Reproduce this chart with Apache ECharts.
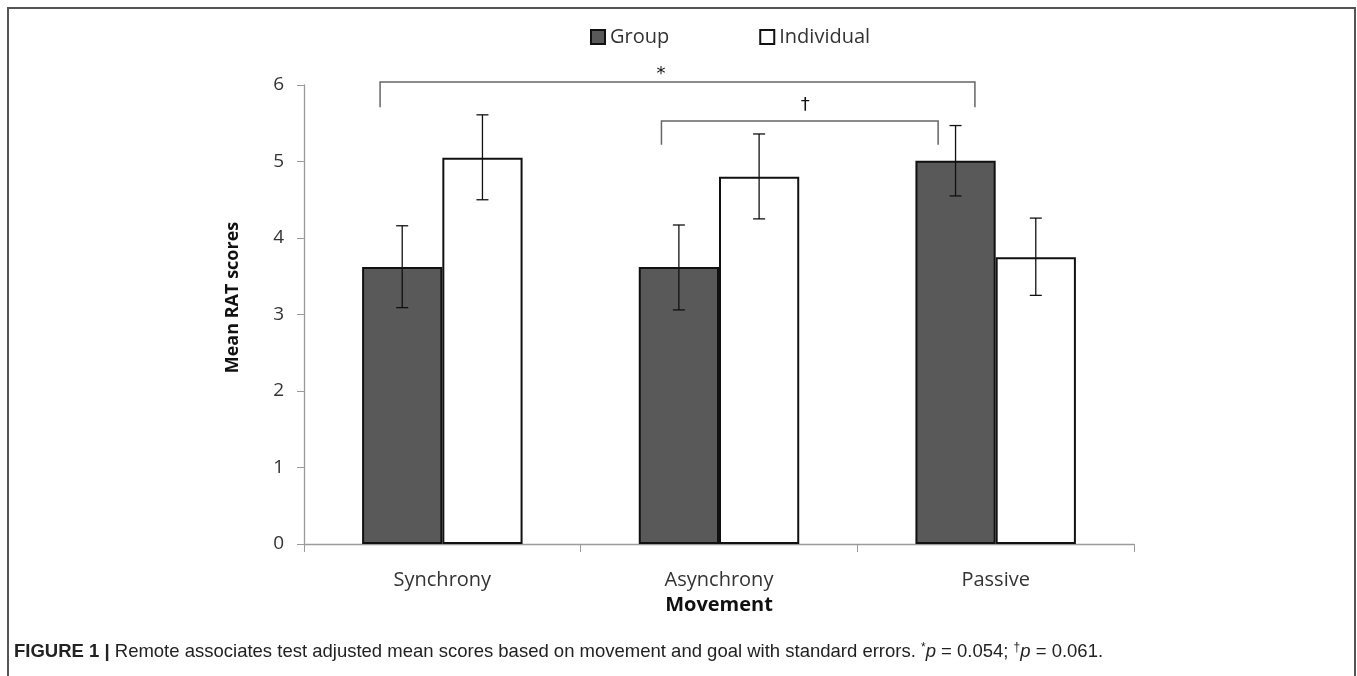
<!DOCTYPE html>
<html><head><meta charset="utf-8">
<script src="https://cdn.jsdelivr.net/npm/echarts@6/dist/echarts.min.js"></script>
<style>html,body{margin:0;padding:0;background:#fff}#c{width:1357px;height:676px}</style>
</head><body><div id="c"></div>
<script>
const categories = ['Synchrony', 'Asynchrony', 'Passive'];
const seriesNames = ['Group', 'Individual'];
const groupMeans = [3.62, 3.62, 5.01];
const groupErrLow = [3.09, 3.06, 4.55];
const groupErrHigh = [4.16, 4.17, 5.47];
const individualMeans = [5.05, 4.80, 3.75];
const individualErrLow = [4.50, 4.25, 3.25];
const individualErrHigh = [5.61, 5.36, 4.26];
const yTicks = [0, 1, 2, 3, 4, 5, 6];
// significance brackets: from / to category, level of the bar, end of the drops, label and its level
const bracketFrom = ['Synchrony', 'Asynchrony'];
const bracketTo = ['Passive', 'Passive'];
const bracketTop = [6.04, 5.53];
const bracketDrop = [5.71, 5.22];
const bracketLabel = ['*', '\u2020'];
const bracketLabelY = [6.14, 5.73];
const captionText = 'Remote associates test adjusted mean scores based on movement and goal with standard errors.';

const FONT = '"Open Sans", sans-serif';
const BAND_FILL = 0.58;           // share of category used by the two bars
const halfBar = BAND_FILL / 4;    // center offset of each bar (fraction of band)
// bracket end shifts, fraction of band, relative to the group bar center
const bracketShiftFrom = [-0.08, -0.063];
const bracketShiftTo = [0.07, -0.063];
const bracketLabelShift = [-0.06, 0.02];

const chart = echarts.init(document.getElementById('c'), null, {renderer: 'canvas'});

function errData(low, high) {
  return categories.map((c, i) => [i, low[i], high[i]]);
}
function errorRender(sign) {
  return function (params, api) {
    const idx = api.value(0);
    const pLow = api.coord([idx, api.value(1)]);
    const pHigh = api.coord([idx, api.value(2)]);
    const band = api.size([1, 0])[0];
    const x = pLow[0] + sign * band * halfBar;
    const cap = 6;
    const st = {stroke: '#111', lineWidth: 1.3};
    return {type: 'group', children: [
      {type: 'line', shape: {x1: x, y1: pLow[1], x2: x, y2: pHigh[1]}, style: st},
      {type: 'line', shape: {x1: x - cap, y1: pLow[1], x2: x + cap, y2: pLow[1]}, style: st},
      {type: 'line', shape: {x1: x - cap, y1: pHigh[1], x2: x + cap, y2: pHigh[1]}, style: st}
    ]};
  };
}

const bracketData = bracketFrom.map((f, i) => [categories.indexOf(f), bracketTop[i], categories.indexOf(bracketTo[i]), bracketDrop[i], bracketLabelY[i]]);

const option = {
  backgroundColor: '#fff',
  animation: false,
  legend: {
    data: seriesNames,
    left: 590, top: 27, padding: 0,
    icon: 'rect', itemWidth: 14, itemHeight: 14, itemGap: 90,
    textStyle: {fontFamily: FONT, fontSize: 20, color: '#333'}
  },
  grid: {left: 304, right: 223, top: 85, bottom: 132, containLabel: false},
  xAxis: {
    type: 'category', data: categories,
    name: 'Movement', nameLocation: 'middle', nameGap: 47,
    nameTextStyle: {fontFamily: FONT, fontSize: 20, fontWeight: 'bold', color: '#111'},
    axisLine: {lineStyle: {color: '#9a9a9a', width: 1.3}},
    axisTick: {show: true, length: 8, lineStyle: {color: '#9a9a9a'}},
    axisLabel: {fontFamily: FONT, fontSize: 20, color: '#333', margin: 26}
  },
  yAxis: {
    type: 'value', min: yTicks[0], max: yTicks[yTicks.length - 1], interval: 1,
    name: 'Mean RAT scores', nameLocation: 'middle', nameGap: 62,
    nameTextStyle: {fontFamily: FONT, fontSize: 18, fontWeight: 'bold', color: '#111', padding: [0, 0, 0, 34]},
    axisLine: {show: true, lineStyle: {color: '#9a9a9a', width: 1.3}},
    axisTick: {show: true, length: 7, lineStyle: {color: '#9a9a9a'}},
    axisLabel: {fontFamily: FONT, fontSize: 19, color: '#333', margin: 20},
    splitLine: {show: false}
  },
  series: [
    {name: seriesNames[0], type: 'bar', data: groupMeans, barGap: '0%', barCategoryGap: '42%',
     itemStyle: {color: '#595959', borderColor: '#111', borderWidth: 2}},
    {name: seriesNames[1], type: 'bar', data: individualMeans, barGap: '0%', barCategoryGap: '42%',
     itemStyle: {color: '#ffffff', borderColor: '#111', borderWidth: 2}},
    {type: 'custom', name: 'errG', data: errData(groupErrLow, groupErrHigh), renderItem: errorRender(-1),
     z: 5, silent: true, clip: false, encode: {x: 0, y: [1, 2]}},
    {type: 'custom', name: 'errI', data: errData(individualErrLow, individualErrHigh), renderItem: errorRender(1),
     z: 5, silent: true, clip: false, encode: {x: 0, y: [1, 2]}},
    {type: 'custom', name: 'brackets', data: bracketData, z: 6, silent: true, clip: false,
     encode: {x: [0, 2], y: [1, 3, 4]},
     renderItem: function (params, api) {
       const i = params.dataIndex;
       const band = api.size([1, 0])[0];
       const a = api.coord([api.value(0), api.value(1)]);
       const b = api.coord([api.value(2), api.value(1)]);
       const d = api.coord([api.value(0), api.value(3)]);
       const lab = api.coord([api.value(0), api.value(4)]);
       const x1 = a[0] + band * (-halfBar + bracketShiftFrom[i]);
       const x2 = b[0] + band * (-halfBar + bracketShiftTo[i]);
       const st = {stroke: '#666', lineWidth: 1.5, fill: null};
       return {type: 'group', children: [
         {type: 'polyline', shape: {points: [[x1, d[1]], [x1, a[1]], [x2, a[1]], [x2, d[1]]]}, style: st},
         {type: 'text', style: {text: bracketLabel[i], x: (x1 + x2) / 2 + band * bracketLabelShift[i], y: lab[1],
           align: 'center', verticalAlign: 'middle', font: '18px "DejaVu Sans", sans-serif', fill: '#111'}}
       ]};
     }}
  ],
  graphic: [
    {type: 'rect', shape: {x: 8, y: 8, width: 1347, height: 700}, style: {fill: null, stroke: '#555', lineWidth: 2}, silent: true},
    {type: 'text', left: 14, top: 642, silent: true,
     style: {
       text: '{b|FIGURE 1 |} ' + captionText + ' {s|*}{i|p} = 0.054; {s|\u2020}{i|p} = 0.061.',
       font: '18.5px "Liberation Sans", Arial, sans-serif', fill: '#222',
       rich: {
         b: {fontWeight: 'bold', fontSize: 18.5, fontFamily: '"Liberation Sans", Arial, sans-serif', fill: '#222'},
         i: {fontStyle: 'italic', fontSize: 18.5, fontFamily: '"Liberation Sans", Arial, sans-serif', fill: '#222'},
         s: {fontSize: 12, fontFamily: '"Liberation Sans", Arial, sans-serif', verticalAlign: 'top', fill: '#222'}
       }
     }}
  ]
};
chart.setOption(option);
</script>
</body></html>
